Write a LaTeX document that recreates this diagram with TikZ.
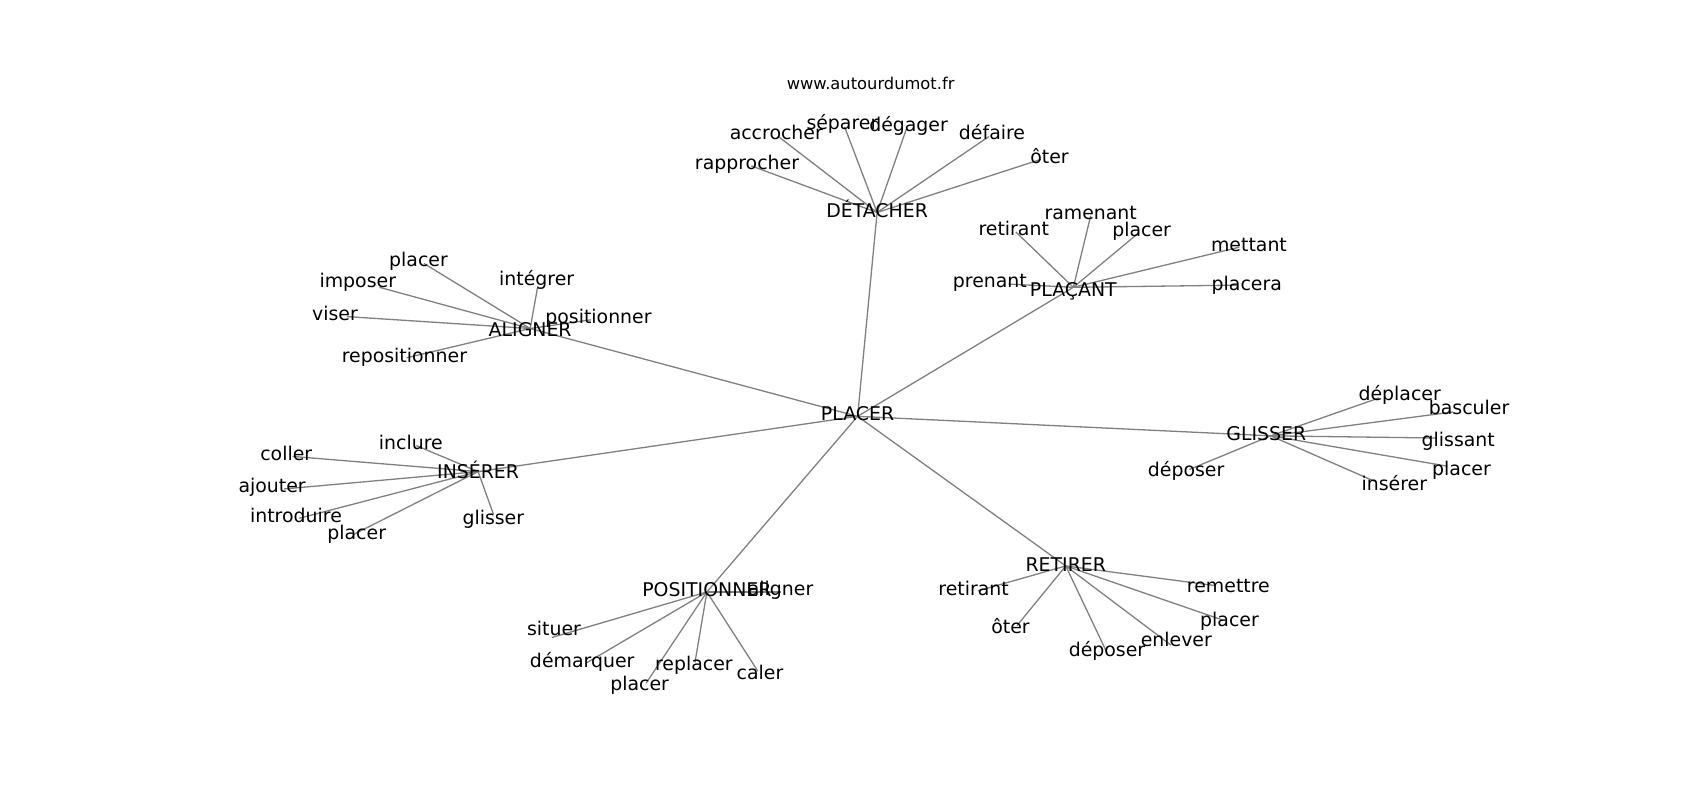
\documentclass[tikz,border=0pt]{standalone}
\usepackage{fontspec}
\setmainfont{DejaVu Sans}
\begin{document}
\begin{tikzpicture}[x=1.0842pt,y=-1.0842pt,
  lbl/.style={inner sep=0pt,text height=0.76em,text depth=0.24em,font=\fontsize{18.9}{22}\selectfont,text=black,yshift=-0.34em},
  edge/.style={draw=black!50,line width=1.3pt}]
\path[use as bounding box] (0,0) rectangle (1568,738);
% coordinates (node centres)
\coordinate (PLACER) at (791,384);
\coordinate (DET) at (809,196);
\coordinate (d1) at (718,126);
\coordinate (d2) at (779,117);
\coordinate (d3) at (836,119);
\coordinate (d4) at (912,126);
\coordinate (d5) at (960,147);
\coordinate (d6) at (693,153);
\coordinate (PLA) at (990,265);
\coordinate (p1) at (937,214);
\coordinate (p2) at (1006,199);
\coordinate (p3) at (1050,215);
\coordinate (p4) at (1143,228);
\coordinate (p5) at (930,262);
\coordinate (p6) at (1141,263);
\coordinate (ALI) at (489,303);
\coordinate (a1) at (391,243);
\coordinate (a2) at (350,265);
\coordinate (a3) at (320,292);
\coordinate (a4) at (496,264);
\coordinate (a5) at (545,295);
\coordinate (a6) at (375,330);
\coordinate (INS) at (441,435);
\coordinate (i1) at (384,411);
\coordinate (i2) at (270,421);
\coordinate (i3) at (262,451);
\coordinate (i4) at (276,478);
\coordinate (i5) at (326,493);
\coordinate (i6) at (455,474);
\coordinate (GLI) at (1172,402);
\coordinate (g1) at (1272,367);
\coordinate (g2) at (1340,380);
\coordinate (g3) at (1325,404);
\coordinate (g4) at (1335,430);
\coordinate (g5) at (1268,444);
\coordinate (g6) at (1097,433);
\coordinate (POS) at (652,546);
\coordinate (o1) at (720,546);
\coordinate (o2) at (509,588);
\coordinate (o3) at (540,612);
\coordinate (o4) at (596,630);
\coordinate (o5) at (641,611);
\coordinate (o6) at (699,619);
\coordinate (RET) at (983,522);
\coordinate (r1) at (902,545);
\coordinate (r2) at (938,577);
\coordinate (r3) at (1021,602);
\coordinate (r4) at (1080,595);
\coordinate (r5) at (1128,572);
\coordinate (r6) at (1120,540);
% edges
\foreach \n in {DET,PLA,ALI,INS,GLI,POS,RET} \draw[edge] (PLACER) -- (\n);
\foreach \n in {d1,d2,d3,d4,d5,d6} \draw[edge] (DET) -- (\n);
\foreach \n in {p1,p2,p3,p4,p5,p6} \draw[edge] (PLA) -- (\n);
\foreach \n in {a1,a2,a3,a4,a5,a6} \draw[edge] (ALI) -- (\n);
\foreach \n in {i1,i2,i3,i4,i5,i6} \draw[edge] (INS) -- (\n);
\foreach \n in {g1,g2,g3,g4,g5,g6} \draw[edge] (GLI) -- (\n);
\foreach \n in {o1,o2,o3,o4,o5,o6} \draw[edge] (POS) -- (\n);
\foreach \n in {r1,r2,r3,r4,r5,r6} \draw[edge] (RET) -- (\n);
% labels
\node[inner sep=0pt,font=\fontsize{16.3}{19}\selectfont] (title) at (803,77) {www.autourdumot.fr};
\node[lbl] (lPLACER) at (791,382) {PLACER};
\node[lbl] (lDET) at (809,195) {DÉTACHER};
\node[lbl] at (716,123) {accrocher};
\node[lbl] at (777,114) {séparer};
\node[lbl] at (838,116) {dégager};
\node[lbl] at (915,123) {défaire};
\node[lbl] at (968,145) {ôter};
\node[lbl] at (689,151) {rapprocher};
\node[lbl] at (990,268) {PLAÇANT};
\node[lbl] at (935,212) {retirant};
\node[lbl] at (1006,197) {ramenant};
\node[lbl] at (1053,213) {placer};
\node[lbl] at (1152,226) {mettant};
\node[lbl] at (913,260) {prenant};
\node[lbl] at (1150,262) {placera};
\node[lbl] at (489,305) {ALIGNER};
\node[lbl] at (386,240) {placer};
\node[lbl] at (330,260) {imposer};
\node[lbl] at (309,290) {viser};
\node[lbl] at (495,258) {intégrer};
\node[lbl] at (552,293) {positionner};
\node[lbl] at (373,329) {repositionner};
\node[lbl] at (441,436) {INSÉRER};
\node[lbl] at (379,409) {inclure};
\node[lbl] at (264,419) {coller};
\node[lbl] at (251,449) {ajouter};
\node[lbl] at (273,476) {introduire};
\node[lbl] at (329,492) {placer};
\node[lbl] at (455,478) {glisser};
\node[lbl] at (1168,401) {GLISSER};
\node[lbl] at (1291,364) {déplacer};
\node[lbl] at (1355,377) {basculer};
\node[lbl] at (1345,406) {glissant};
\node[lbl] at (1348,433) {placer};
\node[lbl] at (1286,447) {insérer};
\node[lbl] at (1094,434) {déposer};
\node[lbl] at (652,545) {POSITIONNER};
\node[lbl] at (720,544) {aligner};
\node[lbl] at (511,581) {situer};
\node[lbl] at (537,610) {démarquer};
\node[lbl] at (590,631) {placer};
\node[lbl] at (640,613) {replacer};
\node[lbl] at (701,621) {caler};
\node[lbl] at (983,522) {RETIRER};
\node[lbl] at (898,544) {retirant};
\node[lbl] at (932,579) {ôter};
\node[lbl] at (1021,600) {déposer};
\node[lbl] at (1085,591) {enlever};
\node[lbl] at (1134,572) {placer};
\node[lbl] at (1133,541) {remettre};
\end{tikzpicture}
\end{document}
